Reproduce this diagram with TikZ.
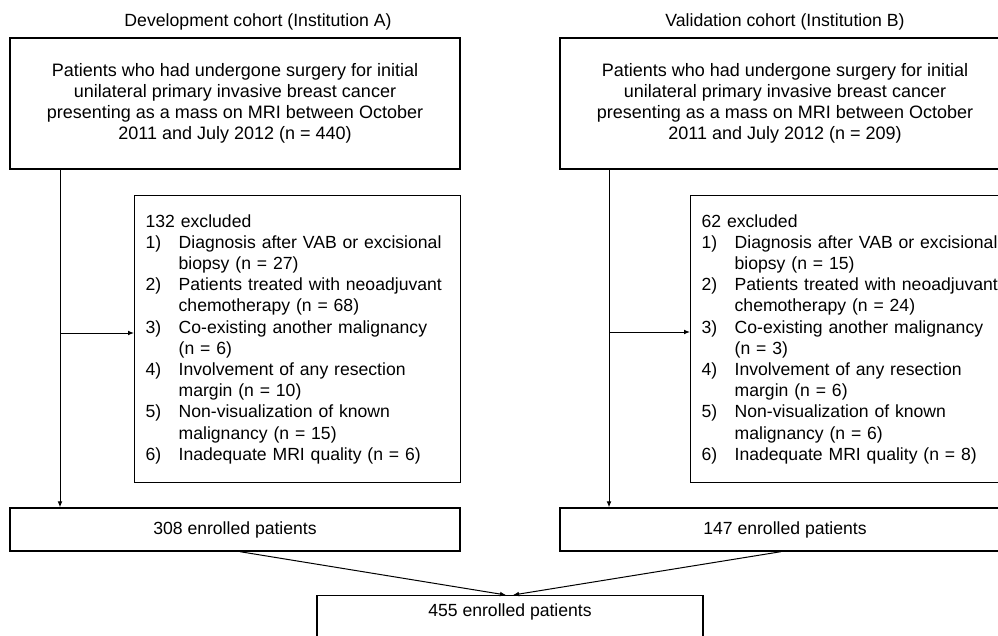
\documentclass[tikz,border=0pt]{standalone}
\usepackage{fontspec}
\setmainfont{Liberation Sans}
\usetikzlibrary{arrows.meta, positioning, calc}

\newcommand{\itm}[1]{\makebox[24.75pt][l]{#1)}}
\newcommand{\ind}{\hspace*{24.75pt}}

\begin{document}
\begin{tikzpicture}[x=0.75pt, y=-0.75pt,
    box/.style={draw, line width=1pt, inner sep=0pt, font=\fontsize{13.2}{15.9}\selectfont},
    bigbox/.style={box, font=\fontsize{13.5}{15.9}\selectfont},
    title/.style={font=\fontsize{13.25}{15.9}\selectfont},
    arr/.style={-{Latex[length=4.5pt,width=3.6pt]}, line width=0.75pt}]
    \useasboundingbox (0,0) rectangle (998,635);
    \clip (0,0) rectangle (998,635);

    % Cohort titles
    \node[title] (titA) at (258,21.5) {Development cohort (Institution A)};
    \node[title] (titB) at (785,21.5) {Validation cohort (Institution B)};

    % Initial populations
    \node[bigbox, minimum width=337.5pt, minimum height=98.25pt, align=center] (topA) at (235,103.5)
        {Patients who had undergone surgery for initial\\unilateral primary invasive breast cancer\\presenting as a mass on MRI between October\\2011 and July 2012 (n = 440)};
    \node[bigbox, minimum width=337.5pt, minimum height=98.25pt, align=center] (topB) at (785,103.5)
        {Patients who had undergone surgery for initial\\unilateral primary invasive breast cancer\\presenting as a mass on MRI between October\\2011 and July 2012 (n = 209)};

    % Exclusions
    \node[box, anchor=north west, minimum width=244.5pt, minimum height=215.25pt, inner xsep=8.25pt,
        text width=228pt, align=left] (exA) at (134,195)
        {132 excluded\\
        \itm{1}Diagnosis after VAB or excisional\\
        \ind biopsy (n = 27)\\
        \itm{2}Patients treated with neoadjuvant\\
        \ind chemotherapy (n = 68)\\
        \itm{3}Co-existing another malignancy\\
        \ind (n = 6)\\
        \itm{4}Involvement of any resection\\
        \ind margin (n = 10)\\
        \itm{5}Non-visualization of known\\
        \ind malignancy (n = 15)\\
        \itm{6}Inadequate MRI quality (n = 6)};
    \node[box, anchor=north west, minimum width=244.5pt, minimum height=215.25pt, inner xsep=8.25pt,
        text width=228pt, align=left] (exB) at (690,195)
        {62 excluded\\
        \itm{1}Diagnosis after VAB or excisional\\
        \ind biopsy (n = 15)\\
        \itm{2}Patients treated with neoadjuvant\\
        \ind chemotherapy (n = 24)\\
        \itm{3}Co-existing another malignancy\\
        \ind (n = 3)\\
        \itm{4}Involvement of any resection\\
        \ind margin (n = 6)\\
        \itm{5}Non-visualization of known\\
        \ind malignancy (n = 6)\\
        \itm{6}Inadequate MRI quality (n = 8)};

    % Enrolled
    \node[box, minimum width=337.5pt, minimum height=32.25pt] (enrA) at (235,529.5) {308 enrolled patients};
    \node[box, minimum width=337.5pt, minimum height=32.25pt] (enrB) at (785,529.5) {147 enrolled patients};
    \node[box, anchor=north, minimum width=289.5pt, inner ysep=6pt, text depth=30pt] (tot) at (510,595) {455 enrolled patients};

    % Connectors
    \coordinate (jA) at (60,333);
    \coordinate (jB) at (609,332);
    \draw[arr] (jA |- topA.south) -- (jA |- enrA.north);
    \draw[arr] (jA) -- (jA -| exA.west);
    \draw[arr] (jB |- topB.south) -- (jB |- enrB.north);
    \draw[arr] (jB) -- (jB -| exB.west);
    \draw[arr] ([xshift=3.75pt]enrA.south) -- ([xshift=-3pt]tot.north);
    \draw[arr] ([xshift=-3pt]enrB.south) -- ([xshift=2.25pt]tot.north);
\end{tikzpicture}
\end{document}
